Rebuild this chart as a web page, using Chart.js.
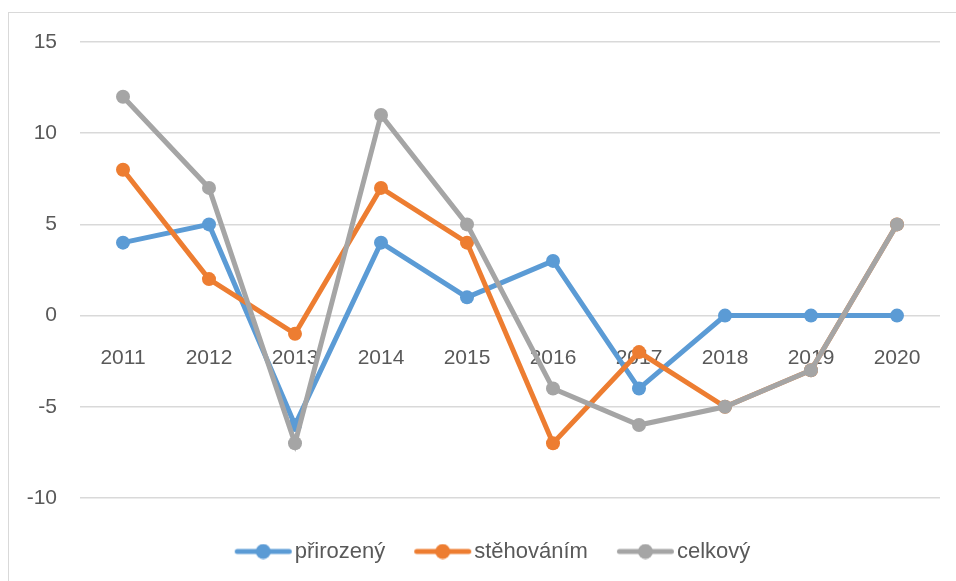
<!DOCTYPE html>
<html>
<head>
<meta charset="utf-8">
<script src="https://cdn.jsdelivr.net/npm/chart.js@4"></script>
<style>
  html, body { margin: 0; padding: 0; background: #fff; }
  #wrap { width: 956px; height: 581px; }
</style>
</head>
<body>
<div id="wrap"><canvas id="chart" width="956" height="581"></canvas></div>
<script>
const years      = ['2011', '2012', '2013', '2014', '2015', '2016', '2017', '2018', '2019', '2020'];
const prirozeny  = [4, 5, -6, 4, 1, 3, -4, 0, 0, 0];
const stehovanim = [8, 2, -1, 7, 4, -7, -2, -5, -3, 5];
const celkovy    = [12, 7, -7, 11, 5, -4, -6, -5, -3, 5];
const yMin = -10, yMax = 15, yStep = 5;

const BLUE = '#5B9BD5', ORANGE = '#ED7D31', GRAY = '#A5A5A5';
const FONT = '"Liberation Sans", Arial, sans-serif';

// line + dot sample for the legend
function legendIcon(color) {
  const c = document.createElement('canvas');
  c.width = 88; c.height = 16;
  const g = c.getContext('2d');
  g.strokeStyle = color; g.lineWidth = 5; g.lineCap = 'round';
  g.beginPath(); g.moveTo(31.5, 8); g.lineTo(83.5, 8); g.stroke();
  g.fillStyle = color;
  g.beginPath(); g.arc(57.5, 8, 7.5, 0, Math.PI * 2); g.fill();
  return c;
}
const icons = [legendIcon(BLUE), legendIcon(ORANGE), legendIcon(GRAY)];

// outer frame
const framePlugin = {
  id: 'frame',
  beforeDraw(chart) {
    const ctx = chart.ctx;
    ctx.save();
    ctx.strokeStyle = '#d9d9d9';
    ctx.lineWidth = 1;
    ctx.strokeRect(8.5, 12.5, 1200, 1200);
    ctx.restore();
  }
};

function series(label, data, color, order) {
  return {
    label, data, order,
    borderColor: color,
    backgroundColor: color,
    borderWidth: 5,
    pointRadius: 7,
    pointHoverRadius: 7,
    pointBorderWidth: 0,
    pointStyle: 'circle',
    tension: 0,
    fill: false,
  };
}

new Chart(document.getElementById('chart'), {
  type: 'line',
  data: {
    labels: years,
    datasets: [
      series('přirozený', prirozeny, BLUE, 2),
      series('stěhováním', stehovanim, ORANGE, 1),
      series('celkový', celkovy, GRAY, 0),
    ],
  },
  options: {
    responsive: false,
    animation: false,
    layout: { padding: { top: 42, left: 26, right: 16, bottom: 8.5 } },
    plugins: {
      tooltip: { enabled: false },
      legend: {
        position: 'bottom',
        title: { display: true, text: '', font: { size: 10, lineHeight: 1 }, padding: { top: 22.5, bottom: 0 } },
        labels: {
          usePointStyle: true,
          pointStyleWidth: 68,
          boxHeight: 16,
          padding: 10,
          color: '#595959',
          font: { family: FONT, size: 22 },
          generateLabels(chart) {
            const items = Chart.defaults.plugins.legend.labels.generateLabels(chart);
            items.sort((a, b) => a.datasetIndex - b.datasetIndex);
            items.forEach(it => { it.pointStyle = icons[it.datasetIndex]; });
            return items;
          },
        },
      },
    },
    scales: {
      x: {
        position: { y: 0 },
        offset: true,
        grid: { display: false },
        border: { display: false },
        ticks: { color: '#595959', font: { family: FONT, size: 21 }, padding: 22, maxRotation: 0 },
      },
      y: {
        min: yMin,
        max: yMax,
        afterFit(scale) { scale.width = 54; },
        grid: { color: '#d9d9d9', lineWidth: 1.5, drawTicks: false },
        border: { display: false },
        ticks: { stepSize: yStep, color: '#595959', font: { family: FONT, size: 21 }, padding: 23 },
      },
    },
  },
  plugins: [framePlugin],
});
</script>
</body>
</html>
